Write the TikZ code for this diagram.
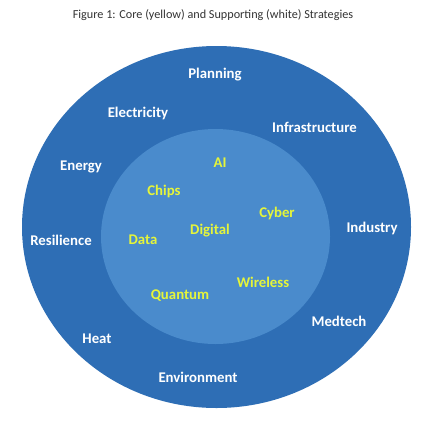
\documentclass[tikz,border=0pt]{standalone}
\usepackage{fontspec}
\setmainfont{Carlito}
\definecolor{outerblue}{HTML}{2E6EB5}
\definecolor{innerblue}{HTML}{4A8BCC}
\definecolor{coreyellow}{HTML}{E5F53A}
\definecolor{titlegray}{HTML}{333333}
\tikzset{
  support/.style={text=white, font=\fontsize{14.8}{16}\selectfont\bfseries, inner sep=0pt},
  core/.style={text=coreyellow, font=\fontsize{14.8}{16}\selectfont\bfseries, inner sep=0pt},
}
\begin{document}
\begin{tikzpicture}[x=1pt,y=-1pt]
\useasboundingbox[fill=white] (0,0) rectangle (427,423);
\node[text=titlegray, font=\fontsize{12.2}{14}\selectfont, inner sep=0pt] (title) at (213,15) {Figure 1: Core (yellow) and Supporting (white) Strategies};
\fill[outerblue] (216.5,227) ellipse [x radius=194.5, y radius=181];
\fill[innerblue] (215.5,236.5) ellipse [x radius=114.5, y radius=107.5];
\node[support] (planning) at (215,75) {Planning};
\node[support] (electricity) at (138,113) {Electricity};
\node[support] (infrastructure) at (314.5,127) {Infrastructure};
\node[support] (energy) at (81,167) {Energy};
\node[support] (industry) at (372,228) {Industry};
\node[support] (resilience) at (61,240) {Resilience};
\node[support] (medtech) at (339,321) {Medtech};
\node[support] (heat) at (97,339) {Heat};
\node[support] (environment) at (198,377) {Environment};
\node[core] (ai) at (220,163) {AI};
\node[core] (chips) at (164,191) {Chips};
\node[core] (cyber) at (277,213) {Cyber};
\node[core] (digital) at (210,231) {Digital};
\node[core] (data) at (143,240) {Data};
\node[core] (wireless) at (263,282) {Wireless};
\node[core] (quantum) at (180,296) {Quantum};
\end{tikzpicture}
\end{document}
